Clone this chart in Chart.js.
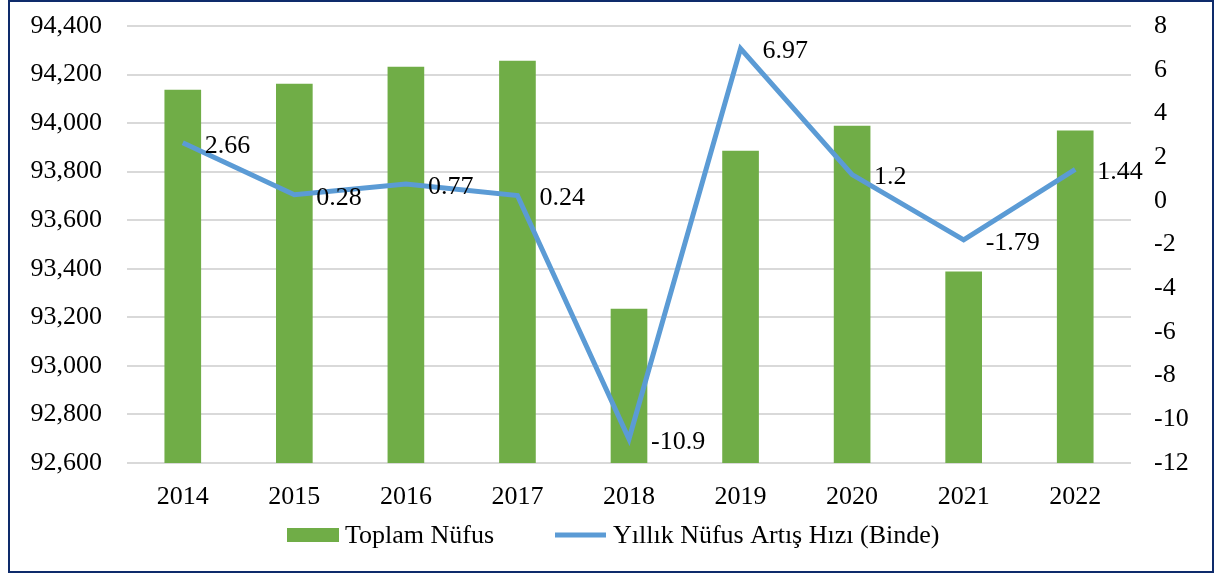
<!DOCTYPE html>
<html>
<head>
<meta charset="utf-8">
<script src="https://cdn.jsdelivr.net/npm/chart.js@4/dist/chart.umd.min.js"></script>
<style>
  body { margin: 0; background: #fff; }
  canvas { display: block; }
</style>
</head>
<body>
<canvas id="chart" width="1216" height="574"></canvas>
<script>
// data
const years = ['2014', '2015', '2016', '2017', '2018', '2019', '2020', '2021', '2022'];
const toplamNufus = [94136, 94161, 94231, 94256, 93234, 93885, 93988, 93387, 93968];
const artisHizi = [2.66, 0.28, 0.77, 0.24, -10.9, 6.97, 1.2, -1.79, 1.44];
const legendNames = ['Toplam Nüfus', 'Yıllık Nüfus Artış Hızı (Binde)'];

const FONT = '"Liberation Serif", "Times New Roman", serif';
const FSIZE = 26;
const GREEN = '#70AD47';
const BLUE = '#5B9BD5';

// labels to the right of each line point
const pointLabels = {
    id: 'pointLabels',
    afterDatasetsDraw(chart) {
        const ctx = chart.ctx;
        const meta = chart.getDatasetMeta(0);
        ctx.save();
        ctx.font = FSIZE + 'px ' + FONT;
        ctx.fillStyle = '#000';
        ctx.textAlign = 'left';
        ctx.textBaseline = 'middle';
        meta.data.forEach((pt, i) => {
            ctx.fillText(String(artisHizi[i]), pt.x + 22, pt.y + 3);
        });
        ctx.restore();
    }
};

// legend + outer frame
const frame = {
    id: 'frame',
    afterDraw(chart) {
        const ctx = chart.ctx;
        ctx.save();
        const y = 535;
        ctx.fillStyle = GREEN;
        ctx.fillRect(287, y - 7, 52, 14);
        ctx.strokeStyle = BLUE;
        ctx.lineWidth = 5;
        ctx.beginPath();
        ctx.moveTo(555, y);
        ctx.lineTo(606, y);
        ctx.stroke();
        ctx.font = FSIZE + 'px ' + FONT;
        ctx.fillStyle = '#000';
        ctx.textBaseline = 'middle';
        ctx.fillText(legendNames[0], 345, y + 1);
        ctx.fillText(legendNames[1], 613, y + 1);

        ctx.strokeStyle = '#0e2b6b';
        ctx.lineWidth = 2;
        ctx.strokeRect(9, 1, 1204, 571);
        ctx.restore();
    }
};

// fixed axis sizes so the plot area sits where it does in the reference
function fixWidth(w) {
    return function (scale) {
        scale.width = w;
        scale.paddingTop = 0;
        scale.paddingBottom = 0;
    };
}

new Chart(document.getElementById('chart'), {
    type: 'bar',
    data: {
        labels: years,
        datasets: [
            {
                type: 'line',
                label: legendNames[1],
                data: artisHizi,
                yAxisID: 'y1',
                borderColor: BLUE,
                borderWidth: 5,
                pointRadius: 0,
                tension: 0,
                order: 0
            },
            {
                label: legendNames[0],
                data: toplamNufus,
                yAxisID: 'y',
                backgroundColor: GREEN,
                barThickness: 36,
                order: 1
            }
        ]
    },
    options: {
        responsive: false,
        animation: false,
        devicePixelRatio: 1,
        layout: { padding: { top: 26, left: 0, right: 0, bottom: 66 } },
        plugins: {
            legend: { display: false },
            tooltip: { enabled: false }
        },
        scales: {
            x: {
                grid: { display: false },
                border: { display: false },
                ticks: { color: '#000', font: { family: FONT, size: FSIZE }, padding: 11 },
                afterFit(scale) { scale.height = 45; }
            },
            y: {
                position: 'left',
                min: 92600,
                max: 94400,
                ticks: { stepSize: 200, color: '#000', font: { family: FONT, size: FSIZE }, padding: 25 },
                grid: { color: '#d9d9d9', lineWidth: 2, drawTicks: false },
                border: { display: false },
                afterFit: fixWidth(127)
            },
            y1: {
                position: 'right',
                min: -12,
                max: 8,
                ticks: { stepSize: 2, color: '#000', font: { family: FONT, size: FSIZE }, padding: 23 },
                grid: { display: false, drawTicks: false },
                border: { display: false },
                afterFit: fixWidth(85)
            }
        }
    },
    plugins: [pointLabels, frame]
});
</script>
</body>
</html>
